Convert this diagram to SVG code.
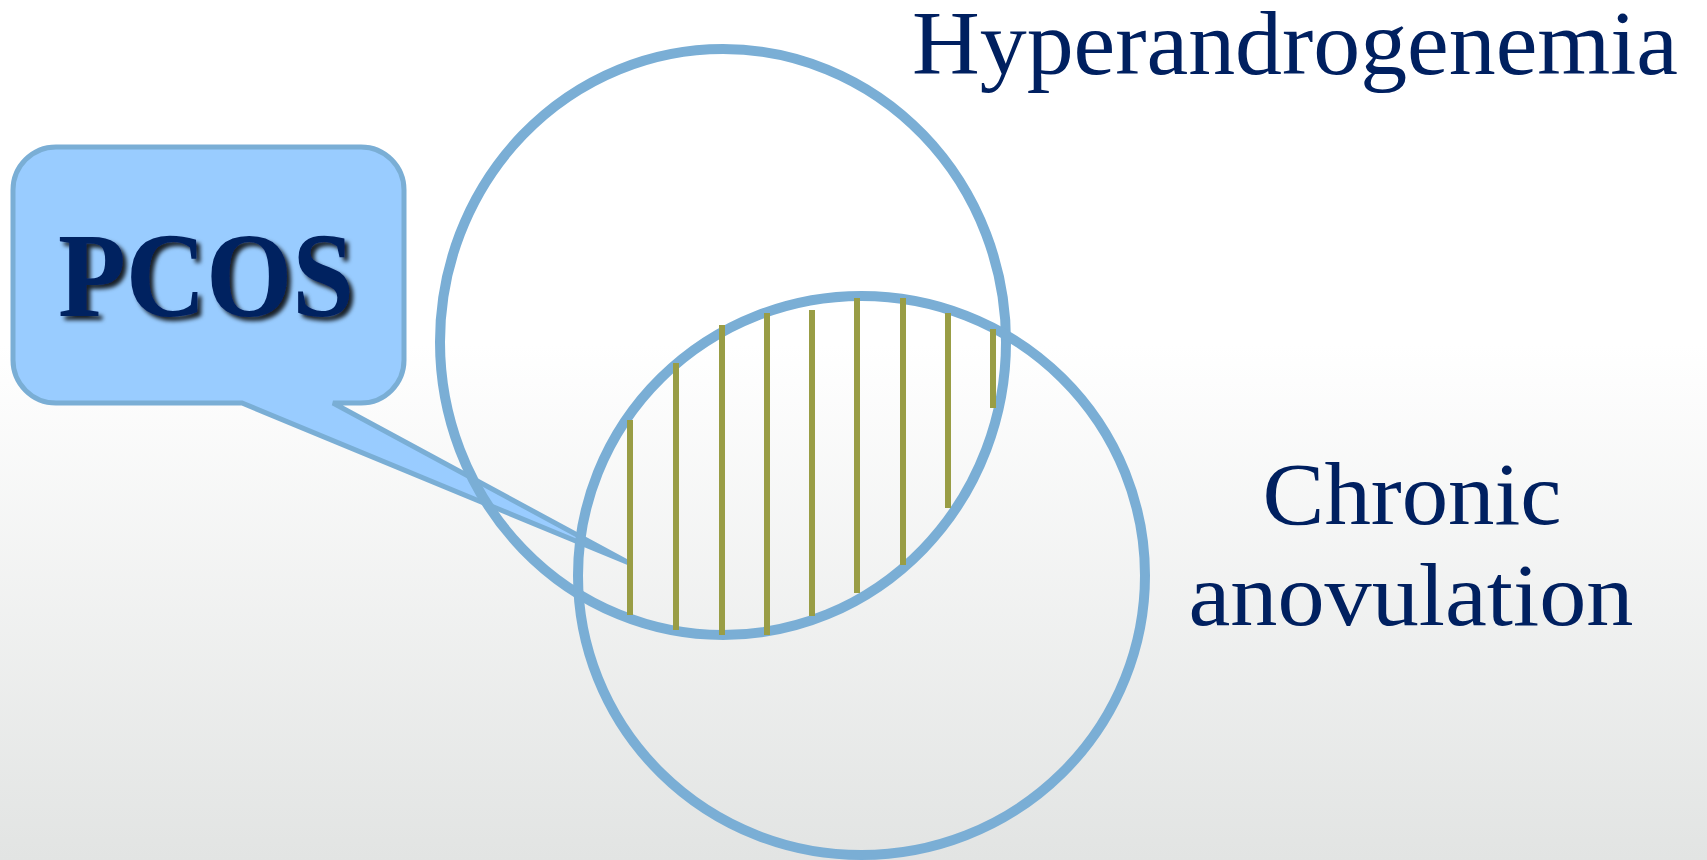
<svg xmlns="http://www.w3.org/2000/svg" width="1707" height="860" viewBox="0 0 1707 860">
  <defs>
    <linearGradient id="bg" x1="0" y1="0" x2="0" y2="1">
      <stop offset="0" stop-color="#ffffff"/>
      <stop offset="0.4" stop-color="#ffffff"/>
      <stop offset="1" stop-color="#e2e4e3"/>
    </linearGradient>
    <filter id="shadow" x="-10%" y="-10%" width="130%" height="140%">
      <feGaussianBlur in="SourceAlpha" stdDeviation="2"/>
      <feOffset dx="4" dy="4" result="b"/>
      <feFlood flood-color="#000000" flood-opacity="0.85"/>
      <feComposite in2="b" operator="in"/>
      <feMerge><feMergeNode/><feMergeNode in="SourceGraphic"/></feMerge>
    </filter>
    <style>
      .ring { fill: none; stroke: #7aaed5; stroke-width: 10; }
      .hatch { stroke: #999d45; stroke-width: 6; }
      .label { font-family: "Liberation Serif", "Times New Roman", serif; fill: #002060; }
      .callout { fill: #99ccff; stroke: #7aaed5; stroke-width: 5; stroke-linejoin: miter; }
    </style>
  </defs>
  <rect x="0" y="0" width="1707" height="860" fill="url(#bg)"/>

  <g id="callout-pcos">
    <path class="callout" d="M 56,147 H 361 A 43 43 0 0 1 404,190 V 360 A 43 43 0 0 1 361,403 H 333 L 629,563 L 242,403 H 56 A 43 43 0 0 1 13,360 V 190 A 43 43 0 0 1 56,147 Z"/>
    <text class="label" x="206" y="316" text-anchor="middle" font-size="120" font-weight="bold" textLength="296" lengthAdjust="spacingAndGlyphs" filter="url(#shadow)">PCOS</text>
  </g>

  <g id="hyperandrogenemia">
    <ellipse class="ring" cx="723" cy="342" rx="283" ry="293"/>
    <text class="label" x="912" y="74" font-size="90" textLength="766" lengthAdjust="spacingAndGlyphs">Hyperandrogenemia</text>
  </g>

  <g id="chronic-anovulation">
    <ellipse class="ring" cx="861.5" cy="575.5" rx="283.5" ry="279.5"/>
    <text class="label" x="1412" y="524" font-size="89" text-anchor="middle" textLength="299" lengthAdjust="spacingAndGlyphs">Chronic</text>
    <text class="label" x="1411" y="625" font-size="89" text-anchor="middle" textLength="445" lengthAdjust="spacingAndGlyphs">anovulation</text>
  </g>

  <g id="overlap-hatch">
    <line class="hatch" x1="630" y1="420" x2="630" y2="615"/>
    <line class="hatch" x1="676" y1="363" x2="676" y2="630"/>
    <line class="hatch" x1="722" y1="325" x2="722" y2="635"/>
    <line class="hatch" x1="767" y1="313" x2="767" y2="635"/>
    <line class="hatch" x1="812" y1="310" x2="812" y2="616"/>
    <line class="hatch" x1="857" y1="298" x2="857" y2="593"/>
    <line class="hatch" x1="903" y1="298" x2="903" y2="565"/>
    <line class="hatch" x1="948" y1="313" x2="948" y2="508"/>
    <line class="hatch" x1="993" y1="329" x2="993" y2="408"/>
  </g>

  <g id="connectors"></g>
</svg>
